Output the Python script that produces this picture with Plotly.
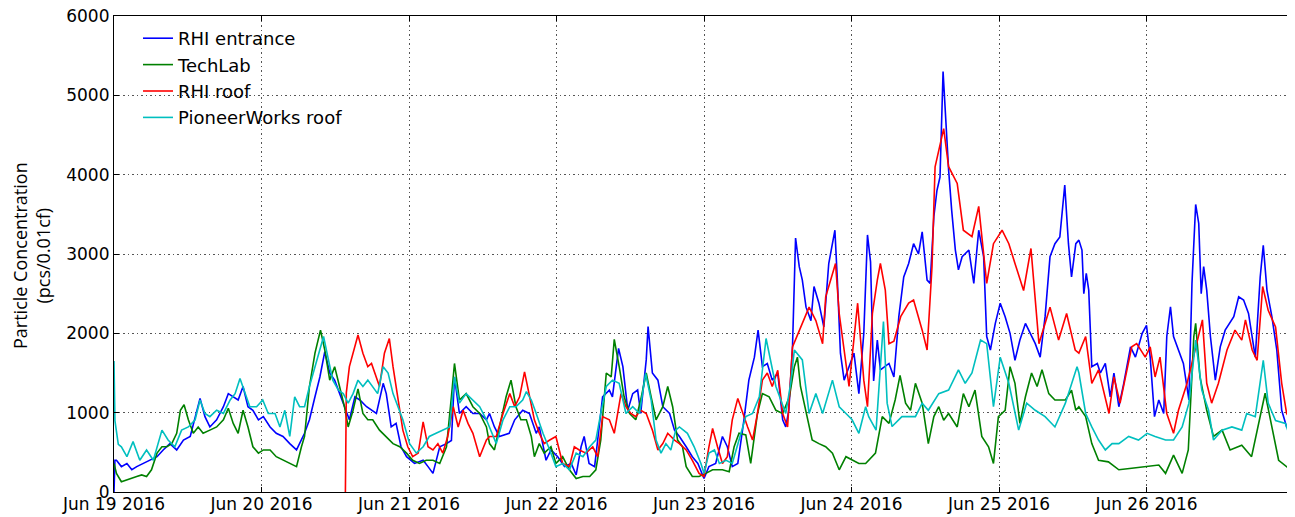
import pandas as pd
import plotly.graph_objects as go

BASE = pd.Timestamp("2016-06-19")

# ---- RHI entrance (hours since Jun 19 00:00, pcs/0.01cf) ----
rhi_entrance_hours = [0, 0.15, 0.4, 1.2, 2.1, 2.9, 3.7, 4.8, 5.9, 7.0, 8.0, 9.1, 10.2, 11.3, 12.4, 13.4, 14.0, 14.8, 15.6, 16.7, 17.8, 18.6, 19.4, 20.2, 21.0, 21.8, 22.6, 23.5, 24.3, 25.4, 26.4, 27.5, 28.6, 29.7, 31.0, 31.8, 32.7, 33.5, 34.3, 35.1, 35.9, 36.7, 37.8, 38.3, 39.2, 40.0, 41.1, 41.9, 42.7, 43.8, 44.3, 45.1, 45.9, 46.7, 47.6, 48.9, 50.3, 51.1, 51.9, 53.0, 54.1, 54.9, 55.4, 56.2, 57.3, 58.4, 59.5, 60.6, 61.1, 61.9, 62.7, 64.3, 65.2, 66.5, 67.6, 68.7, 69.2, 70.3, 71.1, 72.2, 73.3, 74.4, 75.2, 76.0, 76.5, 77.3, 78.2, 78.7, 79.5, 80.6, 81.1, 82.1, 82.8, 83.6, 84.4, 85.2, 85.7, 86.6, 86.9, 87.6, 88.5, 89.3, 90.4, 91.2, 92.0, 93.1, 94.1, 95.0, 96.0, 96.8, 97.9, 99.0, 99.8, 100.6, 101.5, 102.5, 103.3, 104.2, 104.8, 105.5, 106.3, 107.1, 108.0, 108.8, 109.3, 109.8, 110.4, 110.9, 111.5, 112.0, 112.6, 113.4, 113.9, 114.7, 115.5, 116.3, 117.3, 117.7, 118.2, 118.8, 119.6, 120.4, 121.2, 122.0, 122.6, 123.1, 123.6, 124.2, 124.7, 126.1, 126.9, 127.7, 128.5, 129.3, 130.1, 130.9, 131.5, 132.3, 132.8, 133.4, 133.9, 134.4, 134.9, 135.4, 135.8, 136.3, 136.9, 137.4, 138.0, 139.1, 139.9, 140.7, 141.5, 142.0, 142.6, 143.4, 144.2, 145.0, 145.8, 146.6, 147.4, 148.3, 149.9, 150.7, 151.5, 152.3, 153.1, 153.9, 154.7, 155.3, 155.8, 156.5, 157.0, 157.5, 157.8, 158.2, 158.6, 159.1, 160.0, 160.5, 161.3, 162.1, 162.7, 163.5, 164.3, 165.4, 166.2, 167.3, 168.0, 168.6, 169.3, 170.0, 170.8, 171.3, 171.9, 172.4, 173.2, 174.0, 174.9, 175.4, 176.0, 176.5, 176.9, 177.3, 177.8, 178.4, 179.2, 180.0, 180.8, 182.2, 183.0, 183.8, 184.6, 185.7, 186.5, 187.0, 187.6, 188.4, 189.2, 190.0, 190.8, 191.9]
rhi_entrance_values = [0, 400, 400, 320, 360, 280, 320, 360, 400, 445, 530, 610, 530, 655, 700, 990, 1180, 950, 820, 910, 1075, 1240, 1200, 1160, 1330, 1075, 1030, 910, 950, 820, 740, 700, 610, 530, 740, 910, 1200, 1450, 1770, 1500, 1410, 1240, 990, 910, 1200, 1160, 1075, 1030, 990, 1370, 1240, 820, 865, 570, 445, 360, 400, 320, 235, 570, 610, 650, 1450, 990, 1075, 990, 990, 910, 990, 820, 700, 740, 910, 1030, 990, 740, 820, 400, 530, 445, 320, 360, 215, 570, 700, 360, 320, 655, 1200, 1285, 1200, 1810, 1580, 1030, 1240, 1285, 990, 1665, 2085, 1500, 1410, 1075, 990, 780, 700, 570, 445, 360, 170, 320, 360, 700, 570, 320, 360, 910, 1410, 1700, 2040, 1580, 1620, 1410, 1500, 910, 820, 1030, 1830, 3200, 2840, 2670, 2330, 2160, 2590, 2380, 2080, 2880, 3300, 2670, 1750, 1410, 1580, 1750, 1240, 2000, 3240, 2900, 1400, 1915, 1540, 1620, 1450, 2210, 2710, 2880, 3130, 3000, 3280, 2670, 2630, 3470, 3800, 3970, 5300, 4520, 4060, 3550, 3050, 2800, 2965, 3050, 2630, 3300, 2965, 1960, 1790, 2125, 2380, 2210, 2000, 1660, 1915, 2125, 1870, 1700, 2210, 2965, 3130, 3215, 3870, 3130, 2710, 3130, 3175, 3050, 2500, 2755, 2545, 1580, 1620, 1500, 1620, 1200, 1500, 1075, 1370, 1830, 1700, 2000, 2100, 1700, 950, 1160, 990, 1960, 2335, 1960, 1790, 1620, 1160, 2630, 3625, 3385, 2500, 2840, 2545, 1960, 1410, 1830, 2040, 2210, 2460, 2420, 2250, 1700, 2710, 3110, 2545, 2210, 1790, 1030, 820, 780]

# ---- TechLab ----
techlab_hours = [0, 0.4, 1.2, 2.1, 2.9, 3.7, 4.5, 5.3, 6.1, 7.0, 7.8, 8.6, 9.4, 10.2, 10.8, 11.4, 12.1, 12.9, 13.7, 14.5, 15.6, 16.7, 17.8, 18.6, 19.4, 20.2, 21.0, 21.8, 22.6, 23.5, 24.3, 25.4, 26.4, 27.5, 28.6, 29.7, 30.5, 31.0, 31.8, 32.7, 33.6, 34.3, 35.1, 35.9, 36.7, 37.5, 38.1, 38.9, 39.7, 40.5, 41.3, 42.1, 43.2, 44.3, 45.4, 46.5, 47.6, 48.6, 49.7, 50.8, 51.9, 53.0, 54.1, 54.9, 55.4, 56.2, 57.3, 58.4, 59.5, 60.6, 61.1, 61.9, 62.7, 63.8, 64.6, 65.4, 66.2, 67.1, 67.9, 68.4, 69.2, 70.0, 71.1, 71.9, 73.0, 74.1, 75.2, 76.3, 77.4, 78.4, 79.2, 80.1, 80.9, 81.4, 82.2, 83.0, 83.9, 84.9, 85.7, 86.6, 87.4, 88.2, 89.3, 90.1, 90.9, 91.7, 92.5, 93.1, 94.1, 95.2, 96.3, 97.4, 99.0, 100.1, 100.9, 101.7, 102.8, 103.6, 104.7, 105.5, 106.6, 107.7, 108.8, 109.9, 110.7, 111.2, 111.7, 112.6, 113.6, 114.7, 115.8, 116.9, 118.0, 119.1, 120.1, 121.2, 122.3, 122.8, 123.9, 125.0, 126.1, 127.1, 127.9, 128.8, 129.6, 130.4, 131.5, 132.5, 133.4, 134.2, 135.0, 135.8, 137.2, 138.2, 139.1, 140.1, 141.2, 142.3, 143.1, 143.9, 145.0, 145.8, 146.6, 147.4, 148.3, 149.3, 150.2, 151.0, 152.1, 153.1, 154.8, 155.8, 156.5, 157.0, 158.1, 159.1, 160.2, 161.8, 163.5, 165.6, 167.8, 170.0, 171.1, 172.4, 173.8, 174.8, 175.7, 176.0, 176.7, 177.8, 178.9, 180.3, 181.6, 183.5, 185.1, 186.2, 187.3, 188.4, 189.5, 190.8, 191.9]
techlab_values = [360, 235, 130, 150, 170, 195, 215, 195, 280, 490, 570, 570, 610, 740, 1030, 1100, 910, 740, 820, 740, 780, 820, 910, 1055, 865, 740, 1030, 820, 570, 490, 530, 530, 445, 400, 360, 320, 570, 700, 1330, 1750, 2040, 1790, 1410, 1580, 1330, 1075, 820, 1030, 1300, 990, 910, 910, 780, 700, 610, 570, 490, 400, 360, 400, 400, 360, 570, 1200, 1620, 1160, 1240, 1075, 990, 820, 610, 530, 820, 1200, 1410, 1075, 910, 910, 700, 445, 610, 490, 570, 360, 445, 280, 170, 195, 195, 280, 655, 1500, 1450, 1925, 1580, 1200, 990, 910, 1160, 1500, 1200, 910, 1075, 1330, 1075, 655, 570, 320, 195, 195, 235, 280, 280, 255, 570, 740, 720, 360, 990, 1240, 1200, 1030, 990, 1200, 1580, 1700, 1330, 1030, 655, 610, 570, 490, 280, 445, 400, 360, 360, 400, 490, 950, 865, 1160, 1470, 1120, 1030, 1370, 1120, 610, 950, 1075, 905, 990, 820, 1240, 1075, 1285, 700, 570, 360, 950, 1030, 1580, 1370, 865, 1200, 1500, 1330, 1540, 1240, 1160, 1160, 1285, 1030, 1075, 950, 610, 400, 380, 280, 300, 320, 340, 235, 465, 235, 530, 1960, 2125, 1450, 1030, 700, 780, 530, 590, 445, 865, 1245, 820, 400, 320, 255]

# ---- RHI roof ----
rhi_roof_hours = [37.65, 37.8, 38.3, 39.2, 39.7, 40.5, 41.3, 41.9, 42.4, 43.2, 44.0, 44.8, 45.4, 46.2, 47.0, 47.8, 48.6, 49.5, 50.3, 51.1, 51.9, 52.7, 53.5, 54.3, 55.2, 56.0, 56.8, 57.6, 58.4, 59.5, 60.6, 61.1, 62.2, 63.3, 64.4, 65.2, 66.0, 66.8, 67.6, 68.4, 69.2, 70.0, 70.9, 71.9, 73.0, 74.1, 74.9, 75.7, 76.8, 77.9, 78.7, 79.5, 80.6, 81.4, 82.5, 83.3, 84.1, 84.9, 85.7, 86.6, 87.6, 88.5, 89.3, 90.1, 91.2, 92.0, 93.1, 94.1, 95.2, 96.0, 96.8, 97.4, 98.2, 99.0, 99.8, 100.6, 101.5, 102.3, 103.1, 103.9, 104.7, 105.5, 106.3, 107.1, 108.0, 108.8, 109.6, 110.4, 111.5, 113.1, 114.2, 115.3, 115.8, 117.4, 118.0, 119.1, 119.6, 121.0, 122.0, 122.6, 123.4, 124.2, 124.7, 125.5, 126.1, 126.9, 128.0, 129.3, 130.1, 131.5, 132.3, 133.1, 133.6, 135.0, 135.8, 137.2, 138.2, 139.6, 140.7, 142.0, 143.1, 144.5, 145.6, 146.6, 148.0, 149.2, 150.5, 152.3, 153.7, 155.0, 156.4, 157.0, 158.1, 159.1, 160.2, 161.9, 162.7, 163.7, 165.6, 166.4, 167.8, 168.6, 169.4, 170.2, 171.3, 172.4, 173.2, 174.6, 175.9, 177.1, 177.8, 178.6, 179.7, 181.1, 182.4, 183.5, 184.1, 185.2, 186.0, 186.9, 187.8, 189.0, 190.0, 190.8, 191.9]
rhi_roof_values = [0, 1250, 1580, 1830, 1980, 1750, 1580, 1620, 1500, 1330, 1750, 1935, 1580, 1160, 780, 570, 445, 490, 885, 570, 530, 610, 490, 700, 1075, 820, 1030, 865, 740, 445, 655, 700, 700, 990, 1240, 1075, 1200, 1515, 1200, 910, 740, 610, 655, 700, 360, 320, 570, 530, 490, 570, 445, 950, 910, 740, 1240, 1075, 990, 950, 1030, 990, 780, 530, 610, 740, 655, 610, 530, 400, 235, 195, 570, 800, 570, 360, 445, 910, 1180, 990, 820, 655, 990, 1410, 1500, 1330, 1535, 990, 820, 1830, 2040, 2330, 2160, 1870, 2460, 2880, 2250, 1620, 1330, 2380, 1410, 1075, 2250, 2670, 2880, 2545, 1870, 1900, 2210, 2380, 2420, 2040, 1790, 2840, 4100, 4580, 4100, 3890, 3300, 3220, 3600, 2630, 3130, 3300, 3130, 2880, 2540, 3070, 1870, 2330, 1915, 2250, 1790, 1750, 1960, 1370, 1540, 990, 1450, 1120, 1830, 1870, 1700, 1830, 1450, 1700, 990, 740, 1030, 1370, 1790, 2170, 1370, 1120, 1370, 1790, 2040, 1915, 2170, 1790, 1660, 2590, 2290, 2080, 1370, 990, 865]

# ---- PioneerWorks roof ----
pioneerworks_hours = [0, 0.15, 0.7, 1.2, 2.1, 3.1, 4.2, 5.3, 6.4, 7.8, 8.8, 9.9, 11.0, 12.1, 13.2, 14.0, 14.8, 15.6, 16.7, 17.8, 18.9, 19.7, 20.5, 21.3, 22.1, 23.2, 24.2, 25.1, 26.2, 27.0, 27.8, 28.6, 29.4, 30.2, 31.0, 31.8, 32.7, 33.5, 34.1, 34.8, 35.6, 36.5, 37.3, 38.1, 38.9, 39.7, 40.5, 41.3, 42.1, 42.9, 43.8, 44.6, 45.4, 46.2, 47.0, 48.1, 49.2, 50.3, 51.3, 52.4, 53.5, 54.6, 55.4, 56.2, 57.3, 58.4, 59.5, 60.6, 61.1, 62.2, 63.3, 64.4, 65.4, 66.5, 67.1, 67.9, 68.7, 69.8, 70.9, 71.9, 73.0, 74.1, 75.2, 76.3, 77.4, 78.4, 79.2, 80.1, 81.1, 82.2, 83.3, 84.4, 85.5, 86.5, 87.4, 88.2, 89.0, 89.8, 90.6, 91.4, 92.0, 93.3, 94.4, 95.5, 96.0, 96.8, 97.7, 98.5, 99.6, 100.6, 101.7, 102.8, 103.9, 105.0, 106.1, 106.9, 107.7, 108.5, 109.3, 110.1, 110.7, 112.0, 113.1, 114.2, 115.3, 116.9, 118.0, 119.1, 120.1, 121.2, 122.3, 122.8, 124.0, 125.2, 125.8, 126.6, 128.2, 130.4, 131.5, 132.5, 134.2, 135.8, 137.4, 138.5, 139.6, 141.0, 142.0, 143.1, 144.2, 145.6, 147.2, 148.5, 149.9, 151.5, 153.1, 154.8, 156.7, 157.0, 158.1, 159.1, 160.2, 161.3, 162.4, 163.5, 165.1, 166.7, 168.1, 169.4, 171.1, 172.4, 173.8, 174.9, 176.0, 177.0, 178.1, 178.9, 180.3, 181.9, 183.5, 184.3, 185.7, 187.0, 187.8, 189.0, 190.6, 191.9]
pioneerworks_values = [1650, 900, 600, 570, 445, 635, 400, 530, 400, 780, 655, 570, 780, 820, 910, 1160, 990, 950, 1030, 990, 1160, 1240, 1430, 1240, 1075, 1075, 1160, 990, 990, 820, 1030, 700, 1200, 1075, 1075, 1330, 1580, 1790, 1960, 1700, 1410, 1285, 1240, 1120, 1240, 1410, 1330, 1410, 1330, 1240, 1580, 1500, 1240, 1075, 910, 610, 490, 570, 700, 740, 780, 820, 1450, 1120, 1240, 1160, 1075, 910, 820, 610, 910, 1075, 1075, 1160, 1265, 1160, 990, 740, 530, 320, 360, 280, 490, 445, 570, 655, 990, 1330, 1410, 1370, 990, 1075, 990, 1495, 1160, 655, 490, 610, 530, 780, 820, 740, 570, 360, 235, 490, 530, 360, 400, 360, 655, 950, 990, 1200, 1935, 1620, 1330, 1160, 990, 1370, 1790, 1665, 990, 1240, 990, 1410, 1075, 990, 910, 740, 1075, 950, 780, 2150, 1120, 825, 950, 950, 1120, 1030, 1240, 1285, 1540, 1370, 1500, 1915, 1870, 1075, 1700, 1370, 780, 1120, 1030, 950, 820, 1120, 1580, 1500, 990, 820, 655, 530, 610, 610, 700, 655, 740, 700, 655, 655, 820, 1120, 1915, 1285, 1030, 655, 780, 820, 780, 990, 950, 1660, 1120, 900, 865, 570]

series_names = ["RHI entrance", "TechLab", "RHI roof", "PioneerWorks roof"]
series_colors = ["#0000ff", "#008000", "#ff0000", "#00bfbf"]
series_data = [
    (rhi_entrance_hours, rhi_entrance_values),
    (techlab_hours, techlab_values),
    (rhi_roof_hours, rhi_roof_values),
    (pioneerworks_hours, pioneerworks_values),
]

day_ticks = pd.date_range("2016-06-19", "2016-06-26", freq="D")
day_labels = [d.strftime("%b %d %Y") for d in day_ticks]
y_ticks = [0, 1000, 2000, 3000, 4000, 5000, 6000]

fig = go.Figure()
for name, color, (hrs, vals) in zip(series_names, series_colors, series_data):
    fig.add_trace(go.Scatter(
        x=BASE + pd.to_timedelta(hrs, unit="h"),
        y=vals,
        mode="lines",
        name=name,
        line=dict(color=color, width=1.6),
    ))

# page body adds an 8px offset; target plot box in window pixels: x 114..1294, y 16..492
OFF = 8
W, H = 1295 - OFF, 517 - OFF
ML, MT = 114 - OFF, 16 - OFF
pw, ph = 1180, 476
MR = W - ML - pw
MB = H - MT - ph

axis_common = dict(
    showline=True, linecolor="black", linewidth=1.2, mirror="allticks",
    ticks="inside", ticklen=5, tickcolor="black",
    showgrid=True, gridcolor="#555555", griddash="1.5px,3px", gridwidth=1,
    zeroline=False, ticklabeloverflow="allow",
    tickfont=dict(family="DejaVu Sans", size=17, color="black"),
)

fig.update_layout(
    width=W, height=H,
    margin=dict(l=ML, r=MR, t=MT, b=MB, autoexpand=False),
    paper_bgcolor="white", plot_bgcolor="white",
    xaxis=dict(
        type="date",
        range=[BASE, BASE + pd.Timedelta(days=8)],
        tickvals=list(day_ticks), ticktext=day_labels,
        ticklabelstandoff=-4,
        **axis_common,
    ),
    yaxis=dict(
        range=[0, 6000], tickvals=y_ticks,
        ticktext=[str(v) for v in y_ticks],
        **axis_common,
    ),
    legend=dict(
        x=(138 - 114) / pw, y=1 - (4 / ph), xanchor="left", yanchor="top",
        bgcolor="rgba(0,0,0,0)", borderwidth=0,
        font=dict(family="DejaVu Sans", size=18, color="black"),
        tracegroupgap=0, itemwidth=30,
    ),
    showlegend=True,
    annotations=[dict(
        text="Particle Concentration<br>(pcs/0.01cf)",
        xref="paper", yref="paper",
        x=(31 - 114) / pw, y=(492 - 256) / ph,
        xanchor="center", yanchor="middle",
        textangle=-90, showarrow=False,
        font=dict(family="Open Sans", size=18, color="black"),
    )],
)

fig.write_html("out.html")
